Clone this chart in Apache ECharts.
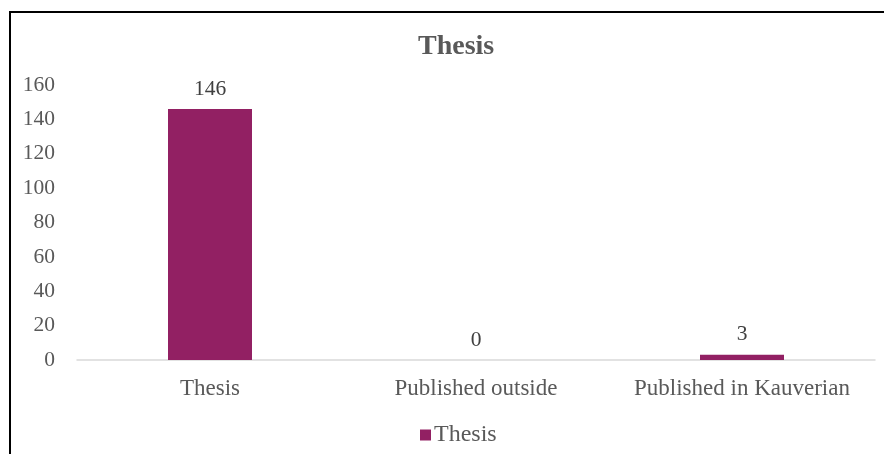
<!DOCTYPE html>
<html><head><meta charset="utf-8">
<script src="https://cdn.jsdelivr.net/npm/echarts@6/dist/echarts.min.js"></script>
<style>html,body{margin:0;padding:0;background:#fff}#c{width:884px;height:454px}</style>
</head><body><div id="c"></div>
<script>
const categories = ['Thesis', 'Published outside', 'Published in Kauverian'];
const values = [146, 0, 3];
const seriesName = 'Thesis';
const titleText = 'Thesis';
const yTicks = [0, 20, 40, 60, 80, 100, 120, 140, 160];

const chart = echarts.init(document.getElementById('c'), null, {renderer: 'canvas'});
const font = '"Liberation Serif", "Times New Roman", serif';
chart.setOption({
  animation: false,
  textStyle: {fontFamily: font},
  graphic: [{
    type: 'rect', shape: {x: 10, y: 12, width: 884, height: 460},
    style: {fill: 'none', stroke: '#000', lineWidth: 2}, silent: true
  }],
  title: {
    text: titleText, left: 413, top: 28, itemGap: 0,
    textStyle: {fontFamily: font, fontSize: 28, fontWeight: 'bold', color: '#595959'}
  },
  legend: {
    data: [seriesName], top: 418, left: 415,
    icon: 'rect', itemWidth: 11, itemHeight: 11, itemGap: 4,
    textStyle: {fontFamily: font, fontSize: 24, color: '#595959', padding: [0, 0, 0, -2]}
  },
  grid: {left: 77, right: 9, top: 85, bottom: 94, containLabel: false},
  xAxis: {
    type: 'category', data: categories,
    axisLine: {lineStyle: {color: '#d9d9d9', width: 1.5}},
    axisTick: {show: false},
    axisLabel: {fontFamily: font, fontSize: 23, color: '#595959', margin: 17, interval: 0}
  },
  yAxis: {
    type: 'value', min: yTicks[0], max: yTicks[yTicks.length - 1], interval: 20,
    axisLine: {show: false}, axisTick: {show: false}, splitLine: {show: false},
    axisLabel: {fontFamily: font, fontSize: 21.5, color: '#595959', margin: 22, verticalAlign: 'middle', padding: [0, 0, 5, 0]}
  },
  series: [{
    name: seriesName, type: 'bar', data: values, barWidth: 84,
    itemStyle: {color: '#922063'},
    label: {show: true, position: 'top', distance: 9, fontFamily: font, fontSize: 21.5, color: '#404040'}
  }]
});
</script></body></html>
